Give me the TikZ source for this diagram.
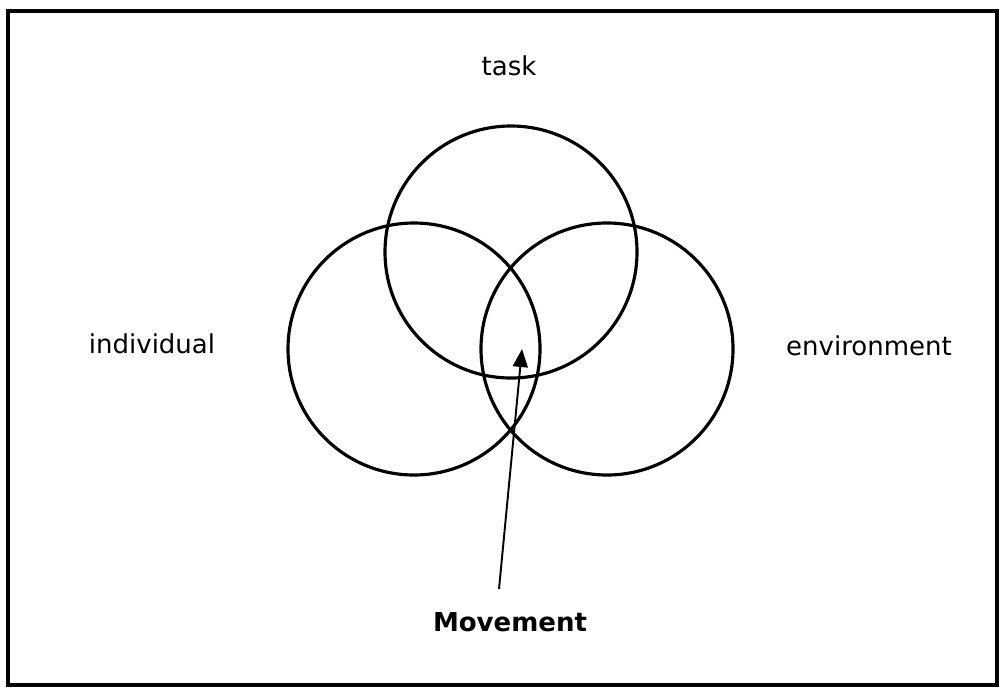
\documentclass[tikz,border=0pt]{standalone}
\usepackage{fontspec}
\setmainfont{DejaVu Sans}
\usetikzlibrary{arrows.meta}

\begin{document}
\begin{tikzpicture}[x=0.02cm, y=-0.02cm,
	ring/.style={line width=1.8pt},
	lbl/.style={font=\fontsize{14.8}{18}\selectfont, anchor=base}]
	\useasboundingbox (0, 0) rectangle (999, 687);
	\draw[line width=1.8pt] (8, 11) rectangle (997, 685);
	% the three circles
	\draw[ring] (511, 252) circle [radius=126];
	\draw[ring] (414, 349) circle [radius=126];
	\draw[ring] (607, 349) circle [radius=126];
	% labels
	\node[lbl] (task) at (509, 75) {task};
	\node[lbl] (indiv) at (152, 353) {individual};
	\node[lbl] (env) at (869, 355) {environment};
	\node[lbl, font=\fontsize{14.8}{18}\selectfont\bfseries] (move) at (510, 631) {Movement};
	\coordinate (tail) at (499, 589);
	\coordinate (core) at (522, 349);
	\draw[line width=1.1pt, -{Triangle[length=0.36cm, width=0.3cm]}] (tail) -- (core);
\end{tikzpicture}
\end{document}
